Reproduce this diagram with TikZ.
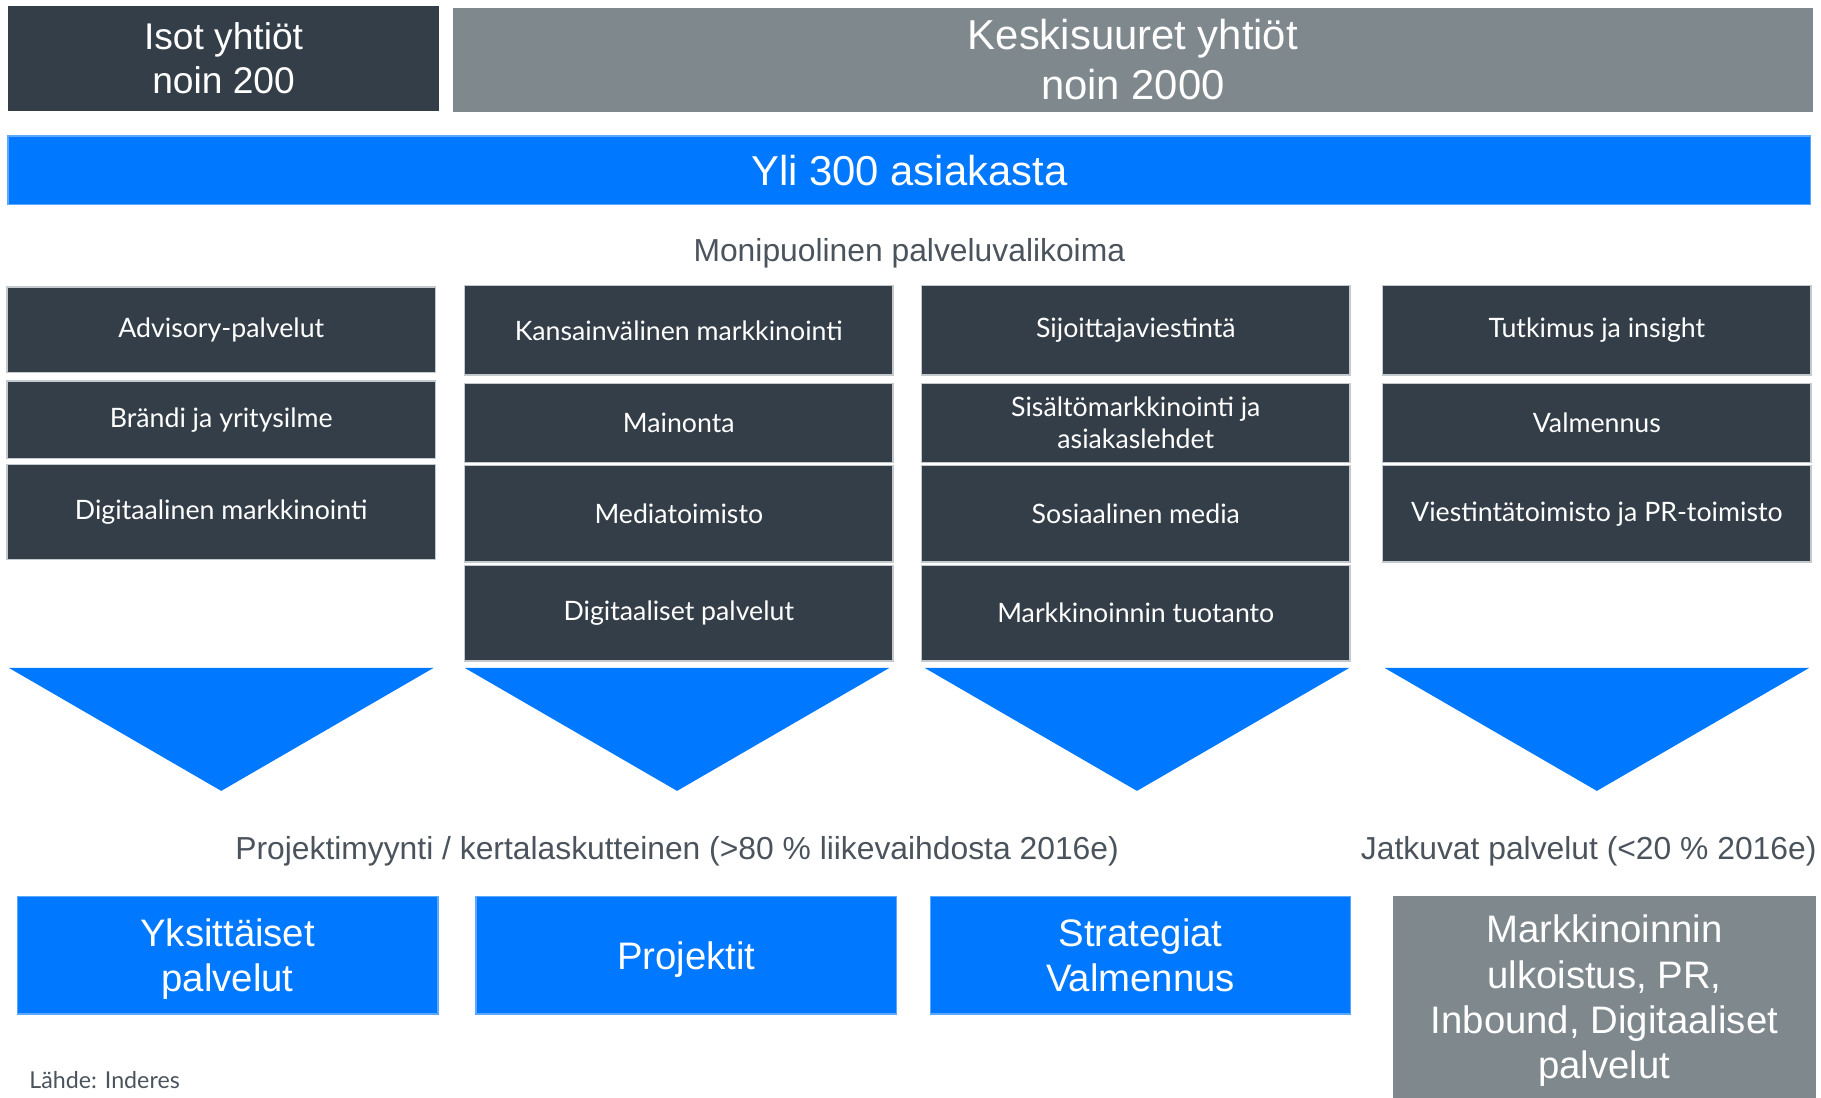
\documentclass[tikz,border=0pt]{standalone}
\usepackage{fontspec}
\setmainfont{Liberation Sans}
\newfontfamily\boxfont{Lato}
\definecolor{slate}{HTML}{343E48}
\definecolor{steel}{HTML}{7F888D}
\definecolor{brightblue}{HTML}{0078FF}
\definecolor{lightblue}{HTML}{5AA8FF}
\definecolor{textgray}{HTML}{4B535C}
\definecolor{edgegray}{HTML}{C4C9CD}

\begin{document}
\begin{tikzpicture}[x=0.5pt,y=-0.5pt,
  header/.style={text=white,font=\fontsize{16}{19}\selectfont,align=center,inner sep=0pt},
  service/.style={fill=slate,draw=edgegray,line width=0.6pt,text=white,font=\boxfont\fontsize{11.5}{13.5}\selectfont,align=center,minimum width=184.5pt,inner sep=0pt},
  result/.style={fill=brightblue,draw=lightblue,line width=0.6pt,text=white,font=\fontsize{16.5}{19.5}\selectfont,align=center,text depth=0pt,minimum width=181pt,minimum height=50.5pt,inner sep=0pt},
  caption/.style={text=textgray,font=\fontsize{13.7}{16}\selectfont}]
\useasboundingbox (0,0) rectangle (1568,945);

% asiakkaat
\node[header,fill=slate,minimum width=185.5pt,minimum height=45.5pt] (isot) at (192.5,50.5) {Isot yhtiöt\\noin 200};
\node[header,fill=steel,font=\fontsize{18}{21.5}\selectfont,minimum width=585.5pt,minimum height=45pt] (keski) at (975.5,51.5) {Keskisuuret yhtiöt\\noin 2000};
\node[header,fill=brightblue,draw=lightblue,line width=0.6pt,font=\fontsize{18}{21.5}\selectfont,minimum width=776pt,minimum height=29.5pt] (asiakkaat) at (783,146.5) {Yli 300 asiakasta};
\node[caption] (valikoima) at (783,218) {Monipuolinen palveluvalikoima};

% palvelut
\node[service,minimum height=37pt] (advisory) at (190.5,284) {Advisory-palvelut};
\node[service,minimum height=33.5pt] (brandi) at (190.5,361.5) {Brändi ja yritysilme};
\node[service,minimum height=41pt] (digimark) at (190.5,441) {Digitaalinen markkinointi};

\node[service,minimum height=38.5pt] (kansain) at (584.5,284.5) {Kansainvälinen markkinointi};
\node[service,minimum height=34pt] (mainonta) at (584.5,364) {Mainonta};
\node[service,minimum height=41.5pt] (media) at (584.5,442.5) {Mediatoimisto};
\node[service,minimum height=41pt] (digipal) at (584.5,528) {Digitaaliset palvelut};

\node[service,minimum height=38.5pt] (sijoittaja) at (978,284.5) {Sijoittajaviestintä};
\node[service,minimum height=34pt] (sisalto) at (978,364) {Sisältömarkkinointi ja\\asiakaslehdet};
\node[service,minimum height=41.5pt] (some) at (978,442.5) {Sosiaalinen media};
\node[service,minimum height=41pt] (tuotanto) at (978,528) {Markkinoinnin tuotanto};

\node[service,minimum height=38.5pt] (tutkimus) at (1375,284.5) {Tutkimus ja insight};
\node[service,minimum height=34pt] (valmennus) at (1375,364) {Valmennus};
\node[service,minimum height=41.5pt] (viestinta) at (1375,442.5) {Viestintätoimisto ja PR-toimisto};

% kolmiot
\foreach \c in {190.5,583,979,1375}
  \fill[brightblue] (\c-183,575) -- (\c+183,575) -- (\c,681) -- cycle;

\node[caption] (projekti) at (583,733) {Projektimyynti / kertalaskutteinen (>80 \% liikevaihdosta 2016e)};
\node[caption] (jatkuvat) at (1368,733) {Jatkuvat palvelut (<20 \% 2016e)};

% myynti
\node[result] (yksittaiset) at (196,822.5) {Yksittäiset\\palvelut};
\node[result] (projektit) at (591,822.5) {Projektit};
\node[result] (strategiat) at (982,822.5) {Strategiat\\Valmennus};
\node[result,fill=steel,draw=steel,minimum width=181.5pt,minimum height=86.5pt] (ulkoistus) at (1381.5,858.5) {Markkinoinnin\\ulkoistus, PR,\\Inbound, Digitaaliset\\palvelut};

\node[anchor=west,inner sep=0pt,text=textgray,font=\boxfont\fontsize{10}{12}\selectfont] (lahde) at (25,930) {Lähde: Inderes};
\end{tikzpicture}
\end{document}
